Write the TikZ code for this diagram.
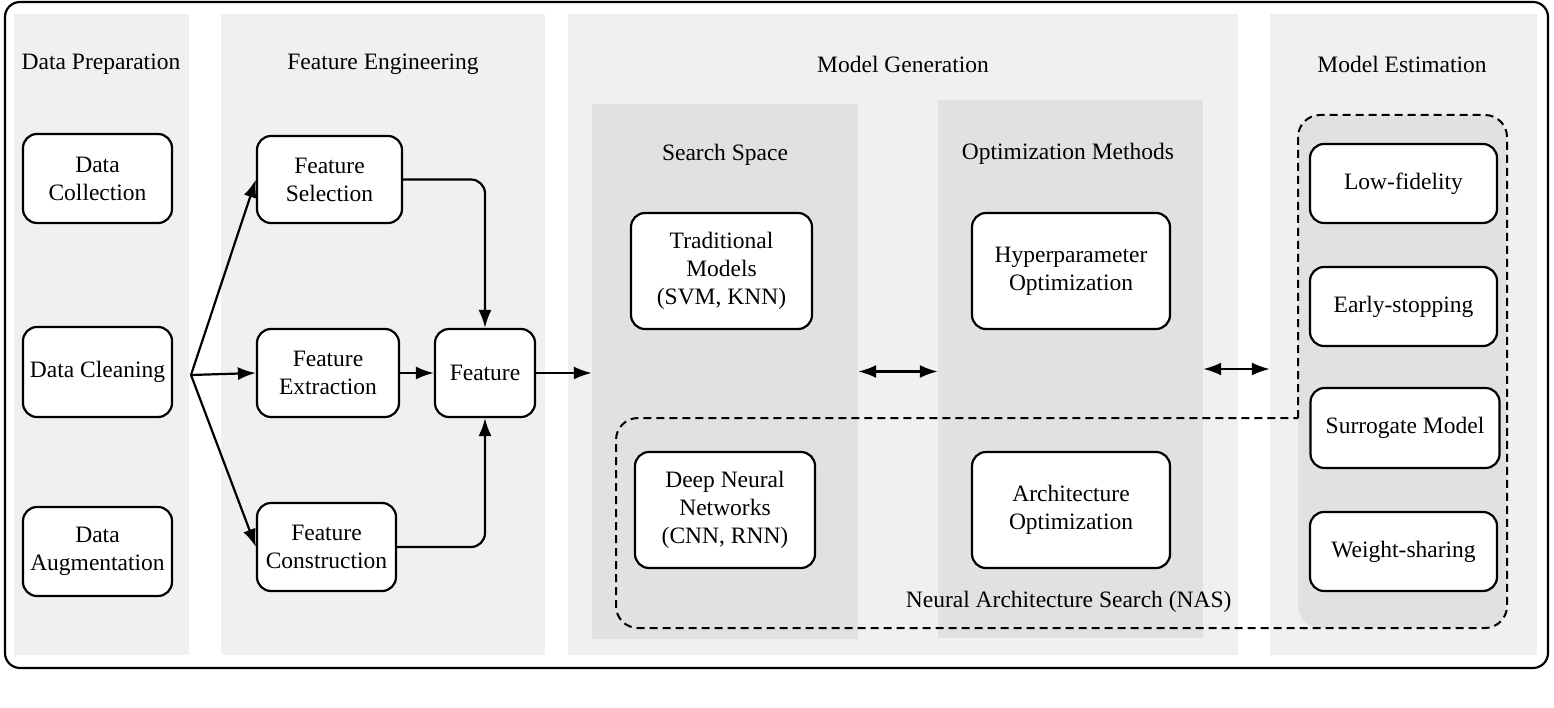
\documentclass[tikz,border=0pt]{standalone}
\usepackage{fontspec}
\setmainfont{Liberation Serif}
\usetikzlibrary{arrows.meta}
\definecolor{panelgray}{HTML}{F0F0F0}
\definecolor{colgray}{HTML}{E1E1E1}
\tikzset{
  panel/.style={fill=panelgray, inner sep=0pt},
  column/.style={fill=colgray, inner sep=0pt},
  box/.style={draw, line width=2.2pt, rounded corners=14pt, fill=white, align=center, inner sep=0pt},
  link/.style={line width=2.2pt, -{Latex[length=18pt,width=13pt]}},
  twoway/.style={line width=2.2pt, {Latex[length=18pt,width=13pt]}-{Latex[length=18pt,width=13pt]}},
  nasline/.style={line width=2pt, dash pattern=on 8pt off 5pt, rounded corners=22pt}
}
\begin{document}
\begin{tikzpicture}[x=1pt, y=-1pt, font=\fontsize{23.5}{28}\selectfont]
\useasboundingbox (0,0) rectangle (1554,708);
\draw[line width=2.2pt, rounded corners=15pt] (5,2) rectangle (1548,668);
\node[panel, minimum width=175pt, minimum height=641pt] (prep) at (101.5,334.5) {};
\node[panel, minimum width=324pt, minimum height=641pt] (feng) at (383,334.5) {};
\node[panel, minimum width=670pt, minimum height=641pt] (mgen) at (903,334.5) {};
\node[panel, minimum width=267pt, minimum height=641pt] (mest) at (1403.5,334.5) {};
\node[column, minimum width=266pt, minimum height=535pt] (sscol) at (725,371.5) {};
\node[column, minimum width=265pt, minimum height=538pt] (omcol) at (1070.5,369) {};
\fill[colgray, rounded corners=22pt] (1298,115) rectangle (1507,628);
\draw[nasline] (1298,418) -- (1298,115) -- (1507,115) -- (1507,628) -- (616,628) -- (616,418) -- (1298,418);

\node (preptitle) at (101,64) {Data Preparation};
\node (fengtitle) at (383,64) {Feature Engineering};
\node (mgentitle) at (903,64) {Model Generation};
\node (mesttitle) at (1402,64) {Model Estimation};
\node (sstitle) at (725,155) {Search Space};
\node (omtitle) at (1068,154) {Optimization Methods};
\node[anchor=east] (nastitle) at (1235,602) {Neural Architecture Search (NAS)};

\node[box, minimum width=149pt, minimum height=89pt] (collect) at (97.5,178.5) {Data\\Collection};
\node[box, minimum width=149pt, minimum height=90pt] (clean) at (97.5,372) {Data Cleaning};
\node[box, minimum width=149pt, minimum height=89pt] (augment) at (97.5,551.5) {Data\\Augmentation};

\node[box, minimum width=145pt, minimum height=87pt] (fsel) at (329.5,179.5) {Feature\\Selection};
\node[box, minimum width=142pt, minimum height=88pt] (fext) at (328,373) {Feature\\Extraction};
\node[box, minimum width=139pt, minimum height=88pt] (fcon) at (326.5,547) {Feature\\Construction};
\node[box, minimum width=100pt, minimum height=88pt] (feat) at (485,373) {Feature};

\node[box, minimum width=181pt, minimum height=116pt] (trad) at (721.5,271) {Traditional\\Models\\(SVM, KNN)};
\node[box, minimum width=180pt, minimum height=116pt] (dnn) at (725,510) {Deep Neural\\Networks\\(CNN, RNN)};
\node[box, minimum width=198pt, minimum height=116pt] (hpo) at (1071,271) {Hyperparameter\\Optimization};
\node[box, minimum width=198pt, minimum height=116pt] (archo) at (1071,510) {Architecture\\Optimization};

\node[box, minimum width=187pt, minimum height=79pt] (lowfid) at (1403.5,183.5) {Low-fidelity};
\node[box, minimum width=187pt, minimum height=79pt] (early) at (1403.5,306.5) {Early-stopping};
\node[box, minimum width=189pt, minimum height=80pt] (surr) at (1405,428) {Surrogate Model};
\node[box, minimum width=187pt, minimum height=79pt] (wshare) at (1403.5,551.5) {Weight-sharing};

\coordinate (fan) at (191,375);
\draw[link] (fan) -- (fsel.west);
\draw[link] (fan) -- (fext.west);
\draw[link] (fan) -- (fcon.west);
\draw[link] (fext) -- (feat);
\draw[link, rounded corners=14pt] (fsel.east) -| (feat.north);
\draw[link, rounded corners=14pt] (fcon.east) -| (feat.south);
\draw[link] (feat.east) -- (feat.east -| sscol.west);
\draw[twoway] (sscol.east) -- (sscol.east -| omcol.west);
\draw[twoway] (omcol.east) -- (omcol.east -| mest.west);
\end{tikzpicture}
\end{document}
